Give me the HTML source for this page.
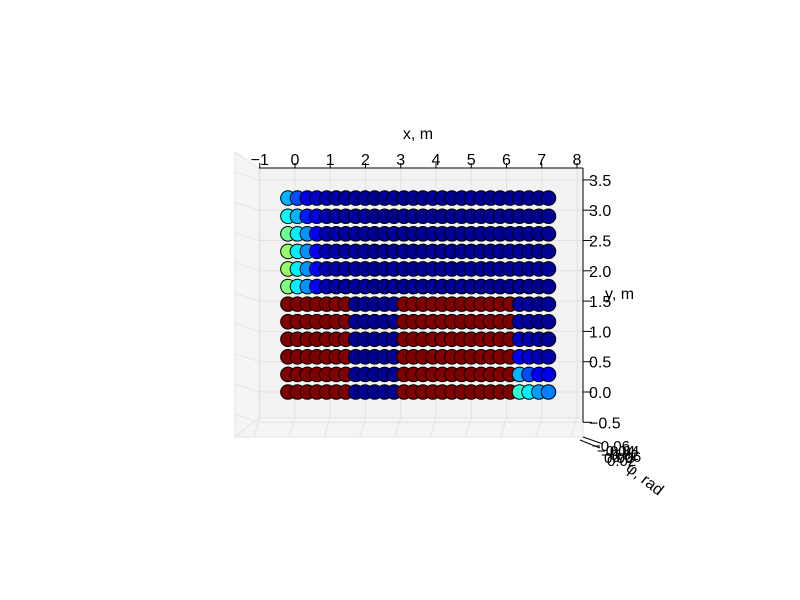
<!DOCTYPE html>
<html><head><meta charset="utf-8"><style>
body{margin:0;background:#fff}
svg{display:block;font-family:"Liberation Sans","DejaVu Sans",sans-serif}
</style></head><body>
<svg id="chart" width="800" height="600">
<g>
<polygon points="235,152 259,168 259,418 235,437" fill="#f5f5f5" stroke="#e4e4e4"/>
<polygon points="235,437 259,418 583,418 583,437" fill="#f5f5f5" stroke="#e4e4e4"/>
<rect x="259" y="168" width="324" height="250" fill="#f2f2f2" stroke="#e6e6e6"/>
</g>
<g id="grid"></g>
<g id="pts"></g>
<g id="axes"></g>
<text x="418" y="139" font-size="16" text-anchor="middle">x, m</text>
<text x="605" y="299" font-size="16">y, m</text>
<text x="625" y="470" font-size="16" transform="rotate(38 625 470)">φ, rad</text>
<g font-size="15">
<text x="592" y="451">−0.06</text><text x="597" y="456">−0.04</text><text x="601" y="460">−0.02</text><text x="604" y="463">0.00</text><text x="607" y="466">0.02</text><text x="610" y="456">0.04</text><text x="612" y="462">0.06</text>
<line x1="580" y1="440" x2="600" y2="448" stroke="#000"/><line x1="583" y1="437" x2="603" y2="444" stroke="#000"/>
</g>
</svg>
<script>
const xTicks=[-1,0,1,2,3,4,5,6,7,8];
const yTicks=[3.5,3.0,2.5,2.0,1.5,1.0,0.5,0.0,-0.5];
const xValues=[-0.2,0.07,0.35,0.62,0.9,1.17,1.44,1.72,1.99,2.26,2.54,2.81,3.09,3.36,3.63,3.91,4.18,4.45,4.73,5.0,5.28,5.55,5.82,6.1,6.37,6.64,6.92,7.19];
const yValues=[0.0,0.29,0.58,0.87,1.16,1.45,1.74,2.03,2.32,2.61,2.9,3.2];
const R=1.0,N=0.02;
const redRow=(a,b,c,d)=>[R,R,R,R,R,R,R,N,N,N,N,N,R,R,R,R,R,R,R,R,R,R,R,R,a,b,c,d];
const blueRow=(a,b,c,d)=>[a,b,c,d,0.05,0.04,0.03,0.03,0.03,N,N,N,N,N,N,N,N,N,N,N,N,N,N,N,N,N,N,N];
const colorValues=[
redRow(0.42,0.36,0.28,0.25),
redRow(0.3,0.2,0.12,0.1),
redRow(0.12,0.08,0.05,0.04),
redRow(0.06,0.04,0.03,N),
redRow(0.04,0.03,N,N),
redRow(0.04,0.03,N,N),
blueRow(0.5,0.36,0.27,0.12),
blueRow(0.52,0.36,0.27,0.12),
blueRow(0.52,0.36,0.27,0.12),
blueRow(0.48,0.36,0.27,0.12),
blueRow(0.38,0.3,0.15,0.1),
blueRow(0.3,0.2,0.1,0.07)];
const X=v=>295+(v-0)*35.25;
const Y=v=>392-v*60.6;
function jet(v){
 const c=t=>Math.round(255*Math.max(0,Math.min(1,t)));
 const r=c(1.5-Math.abs(4*v-3)),g=c(1.5-Math.abs(4*v-2)),b=c(1.5-Math.abs(4*v-1));
 return `rgb(${r},${g},${b})`;
}
const NS="http://www.w3.org/2000/svg";
function mk(tag,at,parent){const e=document.createElementNS(NS,tag);for(const k in at)e.setAttribute(k,at[k]);parent.appendChild(e);return e;}
const grid=document.getElementById('grid'),axes=document.getElementById('axes'),pts=document.getElementById('pts');
xTicks.forEach(t=>{
 const gl=mk('line',{x1:X(t),y1:168,x2:X(t),y2:418,stroke:'#e2e2e2'},grid);
 
 
 mk('line',{x1:X(t),y1:418,x2:X(t)-6,y2:437,stroke:'#e2e2e2'},grid);
 const tk=mk('line',{x1:X(t),y1:168,x2:X(t),y2:163,stroke:'#000'},axes);
 
 
 const tl=mk('text',{x:X(t),y:165,'font-size':16,'text-anchor':'middle'},axes);
 tl.textContent=t<0?'−'+(-t):String(t);
 
 
});
yTicks.forEach(t=>{
 const gl=mk('line',{x1:259,y1:Y(t),x2:583,y2:Y(t),stroke:'#e2e2e2'},grid);
 
 
 mk('line',{x1:235,y1:Y(t)-8,x2:259,y2:Y(t),stroke:'#e6e6e6'},grid);
 const tk=mk('line',{x1:583,y1:Y(t),x2:592,y2:Y(t),stroke:'#000'},axes);
 
 
 const tl=mk('text',{x:589,y:Y(t)+6,'font-size':16},axes);
 tl.textContent=t<0?'−'+(-t).toFixed(1):t.toFixed(1);
 
 
});
mk('line',{x1:259,y1:168,x2:583,y2:168,stroke:'#000'},axes);
mk('line',{x1:583,y1:168,x2:583,y2:422,stroke:'#000'},axes);
yValues.forEach((yv,ri)=>{
 xValues.forEach((xv,ci)=>{
  const c=mk('circle',{cx:X(xv),cy:Y(yv),r:7.3,fill:jet(colorValues[ri][ci]),stroke:'#000','stroke-width':1},pts);
  
  
 });
});
</script>
</body></html>
